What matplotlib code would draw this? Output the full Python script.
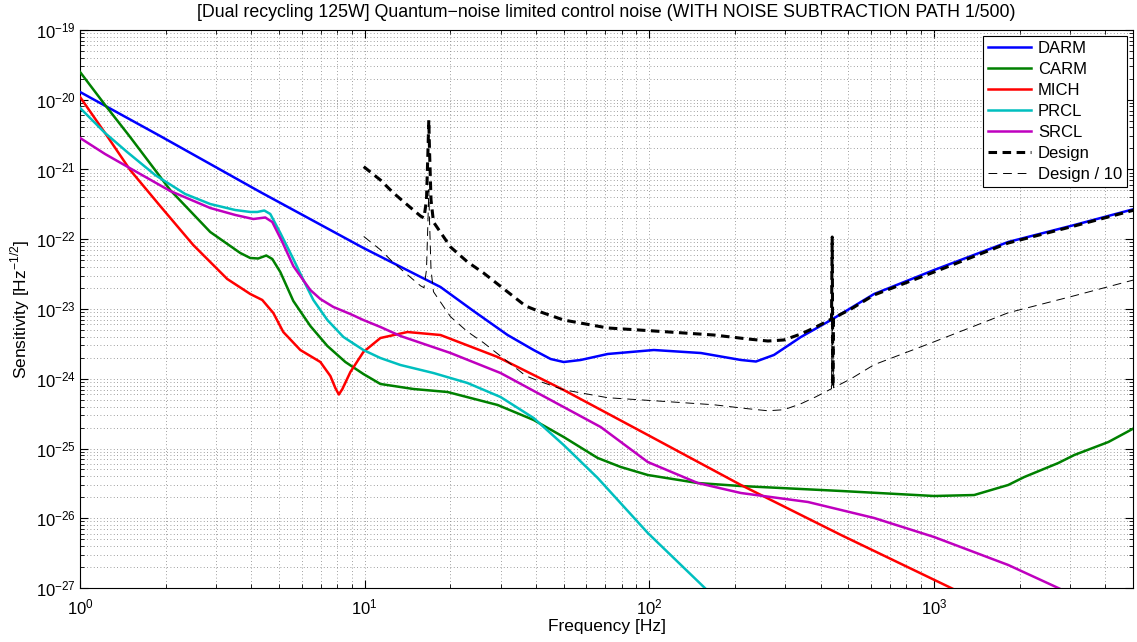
import numpy as np
import matplotlib
matplotlib.use('Agg')
import matplotlib.pyplot as plt
from matplotlib.ticker import LogLocator, NullFormatter, FixedLocator

plt.rcParams['font.family'] = ['Liberation Sans', 'DejaVu Sans']

# 값은 그림에서 읽은 log10(주파수 Hz), log10(감도) 쌍
darm_logf = [0, 0.2814, 0.6331, 0.9954, 1.2663, 1.3823, 1.5019, 1.5934, 1.6532, 1.6989,
             1.7587, 1.8537, 2.0155, 2.1808, 2.3215, 2.3743, 2.4376, 2.5325, 2.6380,
             2.7893, 3.0003, 3.2606, 3.4928, 3.7038]
darm_logv = [-19.889, -20.520, -21.323, -22.125, -22.685, -23.029, -23.373, -23.588, -23.717,
             -23.760, -23.731, -23.645, -23.588, -23.631, -23.731, -23.753, -23.659, -23.401,
             -23.158, -22.785, -22.441, -22.039, -21.796, -21.566]

carm_logf = [0, 0.0879, 0.1759, 0.3166, 0.4573, 0.5628, 0.5980, 0.6261, 0.6542, 0.6753,
             0.7035, 0.7492, 0.8090, 0.8688, 0.9321, 0.9954, 1.0552, 1.1713, 1.2909, 1.4668,
             1.5934, 1.6989, 1.8185, 1.8994, 1.9944, 2.1702, 2.3215, 2.6732, 3.0003, 3.1410,
             3.2606, 3.3169, 3.4365, 3.4928, 3.6124, 3.7038]
carm_logv = [-19.602, -20.075, -20.534, -21.294, -21.896, -22.197, -22.269, -22.276, -22.233,
             -22.283, -22.470, -22.885, -23.244, -23.530, -23.760, -23.932, -24.075, -24.147,
             -24.190, -24.376, -24.591, -24.835, -25.136, -25.265, -25.380, -25.495, -25.538,
             -25.609, -25.681, -25.667, -25.523, -25.409, -25.208, -25.093, -24.907, -24.706]

mich_logf = [0, 0.0879, 0.1759, 0.2814, 0.3975, 0.5171, 0.5980, 0.6402, 0.6789, 0.7140,
             0.7738, 0.8442, 0.8794, 0.8969, 0.9092, 0.9216, 0.9497, 0.9954, 1.0552, 1.1502,
             1.2663, 1.4668, 1.6989, 1.9944, 2.3215, 2.6732, 3.0672]
mich_logv = [-19.961, -20.477, -21.007, -21.523, -22.082, -22.570, -22.785, -22.871, -23.057,
             -23.330, -23.588, -23.760, -23.961, -24.133, -24.226, -24.147, -23.903, -23.616,
             -23.416, -23.330, -23.373, -23.688, -24.161, -24.806, -25.523, -26.240, -27.014]

prcl_logf = [0, 0.0879, 0.1653, 0.2638, 0.3693, 0.4573, 0.5452, 0.5980, 0.6226, 0.6472,
             0.6683, 0.7035, 0.7492, 0.7914, 0.8196, 0.8688, 0.9251, 0.9954, 1.0552, 1.1256,
             1.2416, 1.3612, 1.4773, 1.5934, 1.6989, 1.8185, 1.9944, 2.1984]
prcl_logv = [-20.118, -20.477, -20.749, -21.079, -21.351, -21.495, -21.581, -21.609, -21.609,
             -21.588, -21.638, -21.910, -22.283, -22.642, -22.871, -23.158, -23.401, -23.588,
             -23.703, -23.803, -23.918, -24.061, -24.262, -24.563, -24.950, -25.423, -26.211,
             -27.014]

srcl_logf = [0, 0.0879, 0.1864, 0.3166, 0.4573, 0.5452, 0.6085, 0.6507, 0.6753, 0.7105,
             0.7492, 0.7738, 0.8090, 0.8442, 0.8899, 0.9497, 0.9954, 1.0552, 1.1256, 1.3014,
             1.4773, 1.6532, 1.8290, 1.9944, 2.1702, 2.3215, 2.5572, 2.7893, 3.0003, 3.2606,
             3.4400]
srcl_logv = [-20.548, -20.778, -21.007, -21.308, -21.552, -21.652, -21.710, -21.688, -21.753,
             -22.039, -22.384, -22.527, -22.728, -22.857, -22.971, -23.072, -23.158, -23.258,
             -23.387, -23.631, -23.918, -24.305, -24.692, -25.194, -25.495, -25.638, -25.767,
             -25.996, -26.269, -26.670, -27.007]

design_logf = [0.9965, 1.0552, 1.1010, 1.1502, 1.1959, 1.2082, 1.2170, 1.2223, 1.2251, 1.2276,
               1.2329, 1.2416, 1.3014, 1.3612, 1.4175, 1.4668, 1.5652, 1.6180, 1.6989, 1.8537,
               2.0155, 2.2265, 2.3461, 2.4165, 2.4727, 2.5325, 2.5853, 2.6398, 2.6423, 2.6444,
               2.6469, 2.7084, 2.7893, 3.0003, 3.2606, 3.4928, 3.7038]
design_logv = [-20.960, -21.151, -21.337, -21.509, -21.667, -21.695, -21.437, -20.720, -20.290,
               -20.720, -21.437, -21.753, -22.111, -22.326, -22.484, -22.642, -22.957, -23.043,
               -23.158, -23.272, -23.315, -23.373, -23.430, -23.459, -23.444, -23.358, -23.258,
               -23.143, -21.968, -24.118, -23.129, -23.000, -22.799, -22.470, -22.054, -21.810,
               -21.581]
violin_dip = 29  # 440Hz 근처 아래로 꺾이는 점 (Design / 10 에는 안 보임)

y_decades = list(range(-27, -18))

curves = [
    ('DARM', darm_logf, darm_logv, (0, 0, 1)),
    ('CARM', carm_logf, carm_logv, (0, 0.5, 0)),
    ('MICH', mich_logf, mich_logv, (1, 0, 0)),
    ('PRCL', prcl_logf, prcl_logv, (0, 0.75, 0.75)),
    ('SRCL', srcl_logf, srcl_logv, (0.75, 0, 0.75)),
]

fig = plt.figure(figsize=(11.37, 6.42), dpi=100)
ax = fig.add_axes([0.0704, 0.0841, 0.9261, 0.8692])

for name, lf, lv, col in curves:
    ax.loglog(10 ** np.array(lf), 10 ** np.array(lv), color=col, lw=1.8, label=name, zorder=3)

d_f = 10 ** np.array(design_logf)
d_v = 10 ** np.array(design_logv)
ax.loglog(d_f, d_v, color='k', lw=2.2, dashes=(2.8, 1.8), label='Design', zorder=4)
ax.loglog(np.delete(d_f, violin_dip), np.delete(d_v, violin_dip) / 10, color='k', lw=0.7,
          dashes=(9, 6), label='Design / 10', zorder=4)

ax.set_xlim(1, 5000)
ax.set_ylim(1e-27, 1e-19)
ax.yaxis.set_major_locator(FixedLocator(10.0 ** np.array(y_decades)))
minor_y = [m * 10.0 ** d for d in y_decades[:-1] for m in range(2, 10)]
ax.yaxis.set_minor_locator(FixedLocator(minor_y))
ax.yaxis.set_minor_formatter(NullFormatter())
ax.xaxis.set_major_locator(FixedLocator([1, 10, 100, 1000]))
ax.xaxis.set_minor_locator(LogLocator(base=10, subs=np.arange(2, 10), numticks=20))
ax.xaxis.set_minor_formatter(NullFormatter())

ax.grid(True, which='both', color='0.5', linestyle=(0, (1, 3)), lw=0.6, zorder=0)
ax.tick_params(which='both', direction='in', top=True, right=True, labelsize=12)
ax.tick_params(which='major', length=6)
ax.tick_params(which='minor', length=3)
ax.tick_params(axis='x', which='major', pad=7)
ax.tick_params(axis='y', which='major', pad=3)
for sp in ax.spines.values():
    sp.set_linewidth(0.8)

ax.set_title('[Dual recycling 125W] Quantum\u2212noise limited control noise '
             '(WITH NOISE SUBTRACTION PATH 1/500)', fontsize=12.8, pad=9)
ax.set_xlabel('Frequency [Hz]', fontsize=12.5, labelpad=1)
ax.set_ylabel('Sensitivity [Hz$^{\\mathregular{-1/2}}$]', fontsize=12.5, labelpad=3)

leg = ax.legend(loc='upper right', fontsize=12, handlelength=2.6, labelspacing=0.36,
                borderaxespad=0.35, fancybox=False, framealpha=1, handletextpad=0.4,
                borderpad=0.3)
leg.get_frame().set_edgecolor('k')
leg.get_frame().set_linewidth(0.8)

fig.savefig('out.png', dpi=100)
